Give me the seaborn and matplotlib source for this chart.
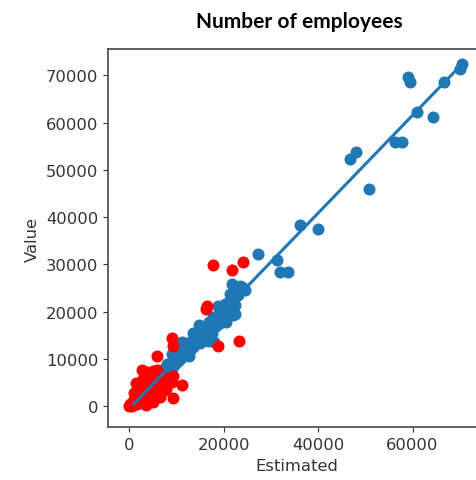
import matplotlib
matplotlib.use("Agg")
import matplotlib.pyplot as plt
import seaborn as sns
import numpy as np

# Blue points (companies fitted well): Estimated vs Value
blue_est = [1000, 2000, 3000, 4000, 5000, 6000, 6500, 7000, 7500, 8000, 8500, 9000,
            9500, 10000, 10100, 10500, 11000, 11500, 12000, 12500, 13000, 13500, 14000,
            14500, 15000, 15500, 16000, 16500, 16700, 17000, 17500, 18000, 18000, 18500,
            19000, 19500, 20000, 20300, 20500, 21000, 21400, 21500, 21700, 22000, 22100,
            22100, 22450, 22500, 22800, 23000, 23500, 23500, 24000, 24500,
            8000, 9000, 10500, 12000, 13000, 14500, 15500, 17000, 18500, 19500, 20800,
            11000, 12800, 14000, 16000, 17800, 19200,
            9000, 11300, 13500, 15000, 12600, 20600, 18900, 14800,
            27400, 31400, 32000, 33700, 36200, 40100, 46800, 48100, 50700,
            56300, 57800, 59100, 59500, 60900, 64400, 66600, 70100, 70500]
blue_val = [1200, 1800, 3300, 3700, 5400, 6200, 7000, 6500, 7800, 8300, 7600, 9400,
            8800, 10500, 9300, 9800, 11200, 12000, 11300, 12800, 13500, 12500, 14400,
            13800, 15600, 16400, 15200, 17000, 13800, 16500, 15500, 17400, 13500, 18200,
            19500, 18800, 20600, 21600, 19800, 21800, 23700, 20900, 25800, 22500, 22700,
            19300, 19500, 21500, 24400, 23500, 24500, 25500, 25200, 24600,
            9000, 8200, 11000, 12600, 12000, 15000, 14600, 17800, 17000, 20000, 19000,
            10300, 11900, 13200, 16800, 18800, 17600,
            11000, 13600, 15600, 13300, 10600, 17800, 21300, 17200,
            32200, 31000, 28300, 28300, 38300, 37500, 52300, 53700, 45900,
            55800, 55900, 69600, 68500, 62200, 61100, 68500, 71300, 72400]

# Red points (outliers / small companies)
red_est = [17850, 21750, 24080, 16450, 16300, 18920, 23360, 9040, 9250, 5870,
           3740, 9040, 11160, 9250, 5150, 9380,
           0, 300, 500, 800, 1000, 1200, 1500, 1800, 2000, 2200, 2500, 2800, 3000,
           3200, 3500, 3800, 4000, 4200, 4500, 5000, 5500, 6000, 6500, 7000, 7500,
           2000, 1000, 3000, 6000, 4500, 7800, 600, 1600, 2600, 3500, 5200, 6800,
           2800, 1500, 6500, 5000, 3500, 7200]
red_val = [29870, 28880, 30440, 21270, 20570, 12810, 13870, 14380, 12810, 10570,
           7190, 5070, 4500, 1690, 7530, 6340,
           0, 500, 200, 1200, 600, 1800, 900, 2500, 1300, 3000, 1800, 3800, 2200,
           4500, 2800, 5000, 3200, 6200, 3600, 4200, 3800, 5000, 4800, 5600, 6200,
           4000, 2800, 5800, 7600, 5000, 3600, 100, 400, 900, 1200, 2400, 3800,
           7600, 5000, 2000, 1000, 300, 3300]

fig = plt.figure(figsize=(4.77, 4.81), dpi=100)
ax = fig.add_axes([108 / 477, (481 - 428.3) / 481, 378 / 477, 378.3 / 481])

sns.regplot(x=np.array(blue_est), y=np.array(blue_val), ci=None, ax=ax,
            color="#1f77b4", scatter_kws={"s": 75, "linewidths": 0, "alpha": 1},
            line_kws={"lw": 2.2})
ax.scatter(red_est, red_val, color="red", s=75, linewidths=0)

ax.set_xlim(-4450, 75550)
ax.set_ylim(-4440, 75540)
ax.set_xticks([0, 20000, 40000, 60000])
ax.set_yticks(np.arange(0, 70001, 10000))
ax.tick_params(labelsize=11.8, colors="#333333")
for s in ax.spines.values():
    s.set_color("#555555")
    s.set_linewidth(1.3)
ax.set_xlabel("Estimated", fontsize=11.8, color="#333333")
ax.set_ylabel("Value", fontsize=11.8, color="#333333")
fig.text(299 / 477, 1 - 22 / 481, "Number of employees", ha="center", va="center",
         fontsize=15, fontweight="bold", family=["Lato", "DejaVu Sans"])

fig.savefig("out.png", dpi=100)
